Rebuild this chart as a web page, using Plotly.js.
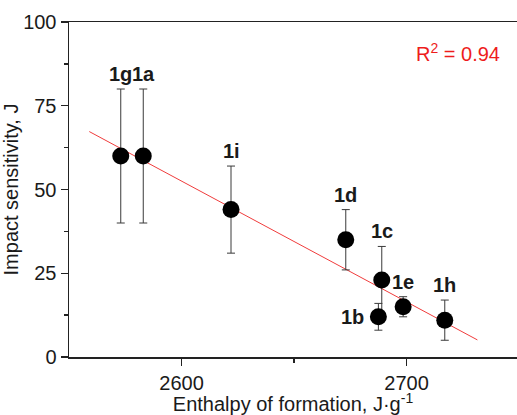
<!DOCTYPE html>
<html>
<head>
<meta charset="utf-8">
<script src="https://cdn.plot.ly/plotly-3.0.1.min.js"></script>
<style>
  html, body { margin: 0; padding: 0; background: #fff; overflow: hidden; }
  #chart { width: 517px; height: 415px; }
</style>
</head>
<body>
<div id="chart"></div>
<script>
// Data
const compounds = ['1g', '1a', '1i', '1d', '1c', '1b', '1e', '1h'];
const enthalpy = [2573, 2583, 2622, 2673, 2689, 2687.5, 2698.5, 2717];
const sensitivity = [60, 60, 44, 35, 23, 12, 15, 11];
const sensitivityErr = [20, 20, 13, 9, 10, 4, 3, 6];

// Linear fit line endpoints
const fitX = [2559, 2731.5];
const fitY = [67.3, 5.1];
const rSquared = '0.94';

const FONT = 'Arial, "Liberation Sans", sans-serif';

const fitTrace = {
  x: fitX, y: fitY, type: 'scatter', mode: 'lines',
  line: { color: '#f03c3c', width: 1 },
  hoverinfo: 'skip', showlegend: false
};

const pointTrace = {
  x: enthalpy, y: sensitivity, type: 'scatter', mode: 'markers',
  marker: { color: '#000', size: 17, line: { width: 0 } },
  error_y: { type: 'data', array: sensitivityErr, visible: true,
             color: '#3a3a3a', thickness: 1, width: 4 },
  showlegend: false
};

const annotations = compounds.map((c, i) => {
  if (c === '1b') {
    return {
      x: enthalpy[i], y: sensitivity[i], xref: 'x', yref: 'y',
      text: '<b>' + c + '</b>', showarrow: false,
      xanchor: 'right', yanchor: 'middle', xshift: -12, yshift: 0,
      font: { family: FONT, size: 20, color: '#1a1a1a' }
    };
  }
  return {
    x: enthalpy[i], y: sensitivity[i] + sensitivityErr[i], xref: 'x', yref: 'y',
    text: '<b>' + c + '</b>', showarrow: false,
    xanchor: 'center', yanchor: 'middle', yshift: 15,
    font: { family: FONT, size: 20, color: '#1a1a1a' }
  };
});

annotations.push({
  x: (458 - 69) / 448, y: (357 - 52) / 335, xref: 'paper', yref: 'paper',
  xanchor: 'center', yanchor: 'middle',
  text: 'R<sup>2</sup> = ' + rSquared, showarrow: false,
  font: { family: FONT, size: 20, color: '#ee1c1c' }
});

const layout = {
  width: 517, height: 415,
  margin: { l: 69, r: 0, t: 22, b: 58, pad: 0 },
  paper_bgcolor: '#fff', plot_bgcolor: '#fff',
  font: { family: FONT, size: 20, color: '#1a1a1a' },
  showlegend: false,
  xaxis: {
    range: [2550, 2749.1],
    tickvals: [2600, 2700],
    ticks: 'outside', ticklen: 7, tickwidth: 1.3, tickcolor: '#222',
    minor: { tickvals: [2650], ticks: 'outside', ticklen: 4, tickwidth: 1.3, tickcolor: '#222' },
    showline: true, linecolor: '#222', linewidth: 1.5, mirror: true,
    showgrid: false, zeroline: false,
    tickfont: { family: FONT, size: 20, color: '#1a1a1a' },
    title: { text: 'Enthalpy of formation, J·g<sup>-1</sup>', font: { family: FONT, size: 20, color: '#1a1a1a' }, standoff: 5 }
  },
  yaxis: {
    range: [0, 100],
    tickvals: [0, 25, 50, 75, 100],
    ticks: 'outside', ticklen: 7, tickwidth: 1.3, tickcolor: '#222',
    minor: { tickvals: [12.5, 37.5, 62.5, 87.5], ticks: 'outside', ticklen: 4, tickwidth: 1.3, tickcolor: '#222' },
    showline: true, linecolor: '#222', linewidth: 1.5, mirror: false,
    showgrid: false, zeroline: false,
    tickfont: { family: FONT, size: 20, color: '#1a1a1a' },
    title: { text: 'Impact sensitivity, J', font: { family: FONT, size: 20, color: '#1a1a1a' }, standoff: 3 }
  },
  annotations: annotations
};

Plotly.newPlot('chart', [fitTrace, pointTrace], layout, { displayModeBar: false, staticPlot: true });
</script>
</body>
</html>
